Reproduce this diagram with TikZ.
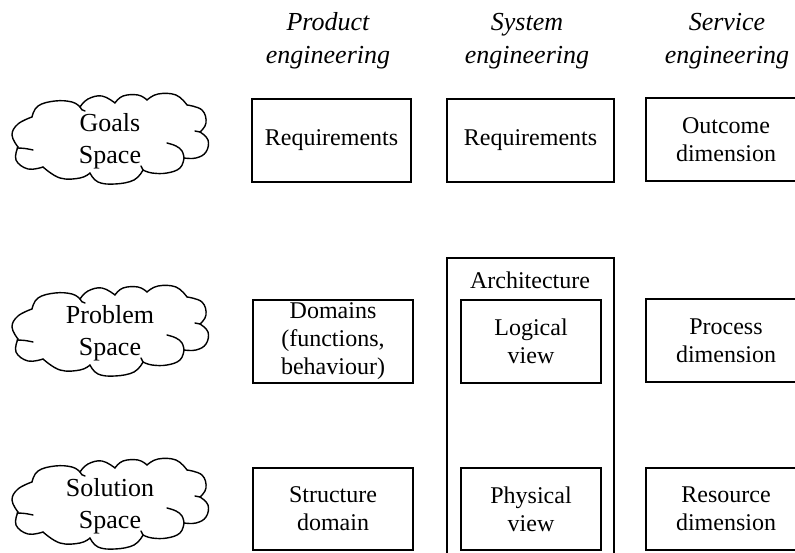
\documentclass[tikz,border=0pt]{standalone}
\usepackage{fontspec}
\setmainfont{Liberation Serif}
\newcommand\puffcloud[4]{%
 \begin{scope}[shift={(#2,#3)},cloudline]
  \draw plot[smooth,tension=0.7] coordinates {(-78,-22) (-92,-15) (-98,-4) (-92,8)};
  \draw plot[smooth,tension=0.7] coordinates {(-78,-22) (-72,-33) (-55,-38) (-38,-37) (-30,-32)};
  \draw plot[smooth,tension=0.7] coordinates {(-30,-32) (-22,-40) (-8,-43) (5,-36)};
  \draw plot[smooth,tension=0.7] coordinates {(5,-36) (13,-43) (28,-44) (37,-39)};
  \draw plot[smooth,tension=0.7] coordinates {(37,-39) (48,-45) (66,-44) (77,-34)};
  \draw plot[smooth,tension=0.7] coordinates {(77,-34) (92,-29) (96,-16) (90,-7)};
  \draw plot[smooth,tension=0.7] coordinates {(90,-7) (98,1) (96,13) (86,19) (74,19)};
  \draw plot[smooth,tension=0.7] coordinates {(74,19) (70,29) (57,34) (42,34) (33,31)};
  \draw plot[smooth,tension=0.7] coordinates {(33,31) (24,41) (5,45) (-12,43) (-20,34)};
  \draw plot[smooth,tension=0.7] coordinates {(-20,34) (-30,39) (-50,39) (-67,28)};
  \draw plot[smooth,tension=0.7] coordinates {(-67,28) (-82,30) (-94,21) (-92,8)};
  % inner strokes
  \draw plot[smooth,tension=0.7] coordinates {(-93,9) (-85,9.5) (-77,11)};
  \draw plot[smooth,tension=0.7] coordinates {(57,4) (66,7) (72,12) (74,19)};
  \draw (-30,-32) to[bend right=30] (-25,-28);
  \draw (90,-7) to[bend left=20] (85,-8);
  \draw (33,31) to[bend left=20] (31,27);
 \end{scope}
 \node[cloudtxt] (#1) at (#2,#3+2) {#4};}
\begin{document}
\begin{tikzpicture}[x=1pt,y=-1pt,
 box/.style={draw,line width=1.4pt,align=center,inner sep=0pt,font=\fontsize{24}{28}\selectfont},
 hdr/.style={align=center,inner sep=0pt,font=\fontsize{26}{33}\selectfont\itshape},
 lbl/.style={align=center,inner sep=0pt,font=\fontsize{24}{28}\selectfont},
 cloudline/.style={line width=1.4pt,line cap=round,line join=round},
 cloudtxt/.style={align=center,inner sep=0pt,font=\fontsize{26}{32}\selectfont}]
\clip (0,0) rectangle (795,553);
\fill[white] (0,0) rectangle (795,553);
% headers
\node[hdr] (h1) at (328,41) {Product\\engineering};
\node[hdr] (h2) at (527,41) {System\\engineering};
\node[hdr] (h3) at (727,41) {Service\\engineering};
% clouds
\puffcloud{c1}{110}{139}{Goals\\Space}
\puffcloud{c2}{110}{331}{Problem\\Space}
\puffcloud{c3}{110}{504}{Solution\\Space}
% product column
\node[box,minimum width=159pt,minimum height=83pt] (p1) at (331.5,140.5) {Requirements};
\node[box,minimum width=160pt,minimum height=83pt] (p2) at (333,341.5) {Domains\\(functions,\\behaviour)};
\node[box,minimum width=160pt,minimum height=82pt] (p3) at (333,509) {Structure\\domain};
% system column
\node[box,minimum width=167pt,minimum height=302pt] (arch) at (530.5,409) {};
\node[box,minimum width=167pt,minimum height=83pt] (s1) at (530.5,140.5) {Requirements};
\node[lbl] (archl) at (530,280) {Architecture};
\node[box,minimum width=140pt,minimum height=83pt] (s2) at (531,341.5) {Logical\\view};
\node[box,minimum width=140pt,minimum height=82pt] (s3) at (531,509) {Physical\\view};
% service column
\node[box,minimum width=160pt,minimum height=83pt] (v1) at (726,139.5) {Outcome\\dimension};
\node[box,minimum width=160pt,minimum height=83pt] (v2) at (726,340.5) {Process\\dimension};
\node[box,minimum width=160pt,minimum height=82pt] (v3) at (726,509) {Resource\\dimension};
\end{tikzpicture}
\end{document}
